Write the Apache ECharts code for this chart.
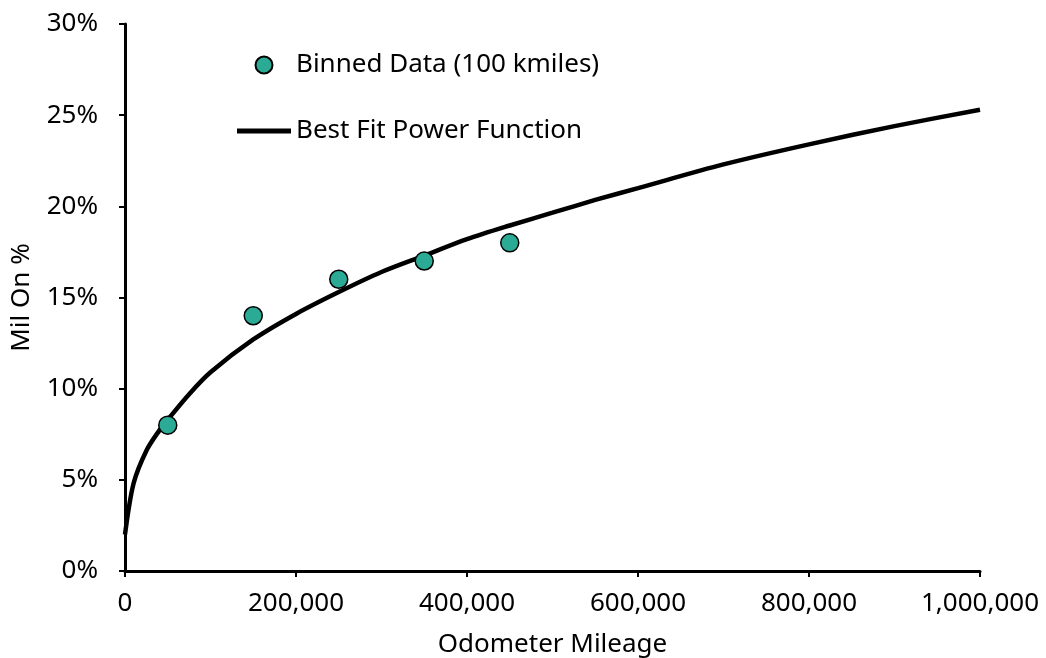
<!DOCTYPE html>
<html>
<head>
<meta charset="UTF-8">
<script src="https://cdn.jsdelivr.net/npm/echarts@6/dist/echarts.min.js"></script>
<style>
  html, body { margin: 0; padding: 0; background: #fff; }
  #main { width: 1046px; height: 658px; }
</style>
</head>
<body>
<div id="main"></div>
<script>
// binned data (mileage, % MIL on)
var binMiles = [50000, 150000, 250000, 350000, 450000];
var binPct = [8.0, 14.0, 16.0, 17.0, 18.0];

// best fit power curve
var fitMiles = [0, 10000, 25000, 40000, 50000, 75000, 100000, 150000, 200000, 250000, 300000,
  350000, 400000, 450000, 500000, 550000, 600000, 700000, 800000, 900000, 1000000];
var fitPct = [2.0, 4.8, 6.6, 7.7, 8.3, 9.7, 10.9, 12.7, 14.1, 15.3, 16.4,
  17.3, 18.2, 18.95, 19.65, 20.35, 21.0, 22.3, 23.4, 24.4, 25.3];

var yTicks = [0, 5, 10, 15, 20, 25, 30];
var xTicks = [0, 200000, 400000, 600000, 800000, 1000000];

function pairs(xs, ys) {
  var out = [];
  for (var i = 0; i < xs.length; i++) out.push([xs[i], ys[i]]);
  return out;
}

var font = 'Noto Sans';
var chart = echarts.init(document.getElementById('main'));
var option = {
  animation: false,
  textStyle: { fontFamily: font, color: '#000' },
  grid: { left: 125, right: 66, top: 24, bottom: 87, outerBoundsMode: 'none', containLabel: false },
  legend: {
    orient: 'vertical',
    left: 232,
    top: 47,
    itemWidth: 54,
    itemHeight: 17,
    itemGap: 40,
    textStyle: { fontSize: 26, color: '#000', fontFamily: font },
    data: [
      { name: 'Binned Data (100 kmiles)', icon: 'circle' },
      { name: 'Best Fit Power Function', icon: 'path://M0,0H540V48H0Z' }
    ]
  },
  xAxis: {
    type: 'value',
    min: xTicks[0],
    max: xTicks[xTicks.length - 1],
    interval: 200000,
    name: 'Odometer Mileage',
    nameLocation: 'middle',
    nameGap: 61,
    nameTextStyle: { fontSize: 26, color: '#000' },
    splitLine: { show: false },
    axisLine: { lineStyle: { color: '#000', width: 3 } },
    axisTick: { lineStyle: { color: '#000', width: 2 }, length: 6 },
    axisLabel: {
      fontSize: 26, color: '#000', margin: 20,
      formatter: function (v) { return v.toLocaleString('en-US'); }
    }
  },
  yAxis: {
    type: 'value',
    min: yTicks[0],
    max: yTicks[yTicks.length - 1],
    interval: 5,
    name: 'Mil On %',
    nameLocation: 'middle',
    nameGap: 90,
    nameTextStyle: { fontSize: 26, color: '#000' },
    splitLine: { show: false },
    axisLine: { show: true, lineStyle: { color: '#000', width: 3 } },
    axisTick: { show: true, lineStyle: { color: '#000', width: 2 }, length: 6 },
    axisLabel: { fontSize: 26, color: '#000', margin: 27, formatter: '{value}%' }
  },
  series: [
    {
      name: 'Binned Data (100 kmiles)',
      type: 'scatter',
      symbolSize: 18,
      z: 3,
      itemStyle: { color: '#2BAA96', borderColor: '#000', borderWidth: 1.5, opacity: 1 },
      data: pairs(binMiles, binPct)
    },
    {
      name: 'Best Fit Power Function',
      type: 'line',
      showSymbol: false,
      symbol: 'none',
      smooth: 0.3,
      z: 2,
      lineStyle: { color: '#000', width: 4.5 },
      itemStyle: { color: '#000' },
      data: pairs(fitMiles, fitPct)
    }
  ]
};
chart.setOption(option);
</script>
</body>
</html>
